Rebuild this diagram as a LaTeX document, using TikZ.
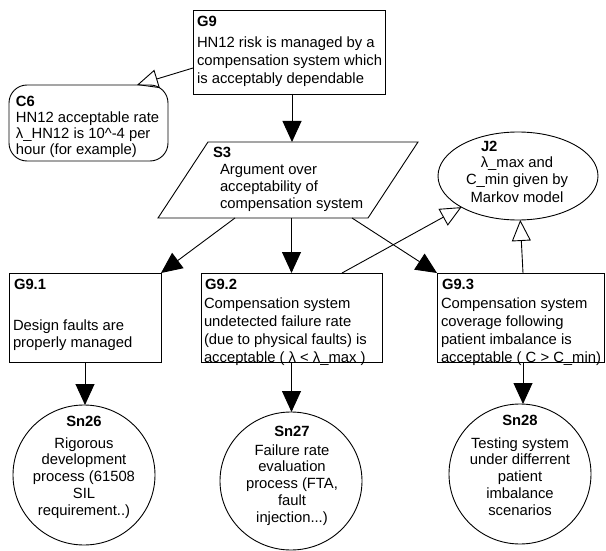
\documentclass[tikz,border=0pt]{standalone}
\usepackage{fontspec}
\setmainfont{Liberation Sans}
\usetikzlibrary{arrows.meta,shapes.geometric}
\begin{document}
\begin{tikzpicture}[x=1pt,y=-1pt,
  every node/.style={inner sep=0pt, outer sep=0pt},
  box/.style={draw, rectangle, line width=0.9pt},
  ctxbox/.style={draw, rectangle, rounded corners=18pt, line width=0.9pt},
  solbox/.style={draw, ellipse, line width=0.9pt},
  ghost/.style={rectangle},
  txt/.style={font=\fontsize{14.8}{18}\selectfont, align=left, anchor=north west},
  txtc/.style={font=\fontsize{14.8}{16.7}\selectfont, align=center, anchor=north},
  lbl/.style={font=\fontsize{14.8}{17.5}\selectfont\bfseries, anchor=north west},
  lblc/.style={font=\fontsize{14.8}{17.5}\selectfont\bfseries, anchor=north},
  supby/.style={-{Triangle[length=21pt,width=19pt]}, line width=0.9pt},
  ctxof/.style={-{Triangle[open,length=21pt,width=19pt]}, line width=0.9pt},
]
\useasboundingbox (0,0) rectangle (606,551);

% shapes
\node[box, minimum width=192pt, minimum height=84pt] (G9) at (289,52) {};
\node[ctxbox, minimum width=159pt, minimum height=76pt] (C6) at (88.5,123) {};
\node[ghost, minimum width=210pt, minimum height=76pt] (S3) at (288,180) {};
\draw[line width=0.9pt] ([xshift=-25pt]S3.south west) -- ([xshift=-25pt]S3.south east)
  -- ([xshift=25pt]S3.north east) -- ([xshift=25pt]S3.north west) -- cycle;
\node[solbox, minimum width=160pt, minimum height=88pt] (J2) at (518,176) {};
\node[box, minimum width=152pt, minimum height=89pt] (G91) at (85,317.5) {};
\node[box, minimum width=181pt, minimum height=89pt] (G92) at (291.5,317.5) {};
\node[box, minimum width=167pt, minimum height=89pt] (G93) at (520.5,317.5) {};
\node[solbox, minimum width=142pt, minimum height=140pt] (Sn26) at (84,475) {};
\node[solbox, minimum width=142pt, minimum height=138pt] (Sn27) at (291,481) {};
\node[solbox, minimum width=142pt, minimum height=140pt] (Sn28) at (520,474) {};

% texts
\node[lbl] (G9l) at (197,16.5) {G9};
\node[txt] (G9t) at (197,36.5) {HN12 risk is managed by a\\compensation system which\\is acceptably dependable};
\node[lbl] (C6l) at (16,96.5) {C6};
\node[txt, font=\fontsize{14.8}{16.3}\selectfont] (C6t) at (16,111.5) {HN12 acceptable rate\\λ\_HN12 is 10\^{}-4 per\\hour (for example)};
\node[lbl] (S3l) at (213,147.5) {S3};
\node[txt, font=\fontsize{14.8}{17}\selectfont] (S3t) at (220,164.5) {Argument over\\acceptability of\\compensation system};
\node[lbl] (J2l) at (481,141.5) {J2};
\node[txtc, font=\fontsize{14.8}{17.5}\selectfont] (J2t) at (517,156.5) {λ\_max and\\C\_min given by\\Markov model};
\node[lbl] (G91l) at (14,279.5) {G9.1};
\node[txt, font=\fontsize{14.8}{17}\selectfont] (G91t) at (13,319.5) {Design faults are\\properly managed};
\node[lbl] (G92l) at (205,279.5) {G9.2};
\node[txt] (G92t) at (204,297.5) {Compensation system\\undetected failure rate\\(due to physical faults) is\\acceptable ( λ < λ\_max )};
\node[lbl] (G93l) at (442,279.5) {G9.3};
\node[txt] (G93t) at (441,297.5) {Compensation system\\coverage following\\patient imbalance is\\acceptable ( C > C\_min)};
\node[lblc] (Sn26l) at (84,416.5) {Sn26};
\node[txtc] (Sn26t) at (84,437.5) {Rigorous\\development\\process (61508\\SIL\\requirement..)};
\node[lblc] (Sn27l) at (292,426.5) {Sn27};
\node[txtc] (Sn27t) at (292,444.5) {Failure rate\\evaluation\\process (FTA,\\fault\\injection...)};
\node[lblc] (Sn28l) at (520,415.5) {Sn28};
\node[txtc] (Sn28t) at (520,437.5) {Testing system\\under differrent\\patient\\imbalance\\scenarios};

% connectors
\draw[supby] ([xshift=3pt]G9.south) -- ([xshift=3pt]G9.south |- S3.north);
\draw[ctxof] ([yshift=-16pt]G9.west) -- ([xshift=48.5pt]C6.north);
\draw[supby] ([xshift=-53pt]S3.south) -- (G91.north east);
\draw[supby] ([xshift=3.5pt]S3.south) -- (G92.north);
\draw[supby] ([xshift=64pt]S3.south) -- (G93.north west);
\draw[ctxof] ([xshift=50.5pt]G92.north) -- (J2);
\draw[ctxof] ([xshift=2.5pt]G93.north) -- (J2);
\draw[supby] (G91.south) -- (G91.south |- Sn26.north);
\draw[supby] (G92.south) -- (G92.south |- Sn27.north);
\draw[supby] ([xshift=2.5pt]G93.south) -- ([xshift=2.5pt]G93.south |- Sn28.north);
\end{tikzpicture}
\end{document}
